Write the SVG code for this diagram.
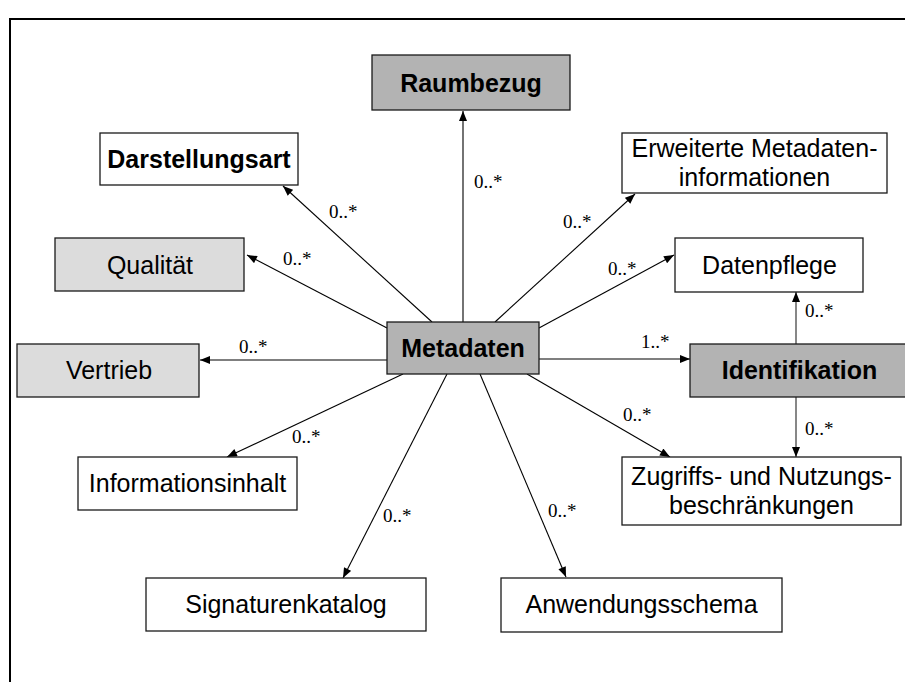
<svg xmlns="http://www.w3.org/2000/svg" width="905" height="682" viewBox="0 0 905 682">
<style>
.box{stroke:#1a1a1a;stroke-width:1.3}
.w{fill:#ffffff}
.d{fill:#b3b3b3}
.l{fill:#dcdcdc}
.t{font-family:"Liberation Sans",Arial,sans-serif;font-size:25px;fill:#000;text-anchor:middle}
.b{font-weight:bold}
.m{font-family:"Liberation Serif","Times New Roman",serif;font-size:19px;fill:#000}
.c{stroke:#000;stroke-width:1.1;fill:none;marker-end:url(#ah)}
.g{stroke:#7a7a7a;stroke-width:1.8;fill:none;marker-end:url(#ah)}
</style>
<defs>
<marker id="ah" viewBox="0 0 10 8" refX="10" refY="4" markerWidth="11" markerHeight="8" orient="auto" markerUnits="userSpaceOnUse"><path d="M0,0 L10,4 L0,8 z" fill="#000"/></marker>
</defs>
<rect width="905" height="682" fill="#fff"/>
<path d="M10,683 V19 H906" fill="none" stroke="#000" stroke-width="2"/>
<g id="connectors">
<line class="c" x1="463" y1="322" x2="463" y2="111"/>
<line class="c" x1="432" y1="322" x2="283" y2="186"/>
<line class="c" x1="495" y1="322" x2="635" y2="194"/>
<line class="c" x1="387" y1="328" x2="247" y2="255"/>
<line class="c" x1="539" y1="328" x2="674" y2="255"/>
<line class="c" x1="387" y1="360" x2="200" y2="360"/>
<line class="c" x1="539" y1="359" x2="690" y2="359"/>
<line class="c" x1="403" y1="374" x2="227" y2="457"/>
<line class="c" x1="447" y1="374" x2="343" y2="578"/>
<line class="c" x1="480" y1="374" x2="566" y2="577"/>
<line class="c" x1="527" y1="374" x2="670" y2="457"/>
<line class="g" x1="796" y1="344" x2="796" y2="292"/>
<line class="g" x1="796" y1="397" x2="796" y2="457"/>
<text class="m" x="474" y="188">0..*</text>
<text class="m" x="329" y="218">0..*</text>
<text class="m" x="563" y="228">0..*</text>
<text class="m" x="283" y="265">0..*</text>
<text class="m" x="608" y="275">0..*</text>
<text class="m" x="239" y="353">0..*</text>
<text class="m" x="641" y="348">1..*</text>
<text class="m" x="805" y="317">0..*</text>
<text class="m" x="805" y="435">0..*</text>
<text class="m" x="623" y="421">0..*</text>
<text class="m" x="292" y="443">0..*</text>
<text class="m" x="383" y="522">0..*</text>
<text class="m" x="548" y="517">0..*</text>
</g>
<g id="raumbezug"><rect class="box d" x="372" y="55" width="198" height="55"/><text class="t b" x="471" y="92">Raumbezug</text></g>
<g id="darstellungsart"><rect class="box w" x="100" y="133" width="198" height="52"/><text class="t b" x="199" y="168">Darstellungsart</text></g>
<g id="erweiterte"><rect class="box w" x="622" y="133" width="265" height="60"/><text class="t" x="754.5" y="157">Erweiterte Metadaten-</text><text class="t" x="754.5" y="186">informationen</text></g>
<g id="qualitaet"><rect class="box l" x="55" y="238" width="189" height="53"/><text class="t" x="150" y="274">Qualität</text></g>
<g id="datenpflege"><rect class="box w" x="675" y="238" width="188" height="54"/><text class="t" x="769.5" y="274">Datenpflege</text></g>
<g id="vertrieb"><rect class="box l" x="17" y="344" width="182" height="53"/><text class="t" x="109" y="379">Vertrieb</text></g>
<g id="metadaten"><rect class="box d" x="387" y="322" width="152" height="52"/><text class="t b" x="463" y="357">Metadaten</text></g>
<g id="identifikation"><rect class="box d" x="690" y="344" width="220" height="53"/><text class="t b" x="799.5" y="379">Identifikation</text></g>
<g id="informationsinhalt"><rect class="box w" x="78" y="457" width="219" height="53"/><text class="t" x="187.5" y="492">Informationsinhalt</text></g>
<g id="zugriffs"><rect class="box w" x="622" y="457" width="279" height="68"/><text class="t" x="761.5" y="485">Zugriffs- und Nutzungs-</text><text class="t" x="761.5" y="514">beschränkungen</text></g>
<g id="signaturenkatalog"><rect class="box w" x="146" y="578" width="280" height="53"/><text class="t" x="286" y="613">Signaturenkatalog</text></g>
<g id="anwendungsschema"><rect class="box w" x="501" y="578" width="281" height="54"/><text class="t" x="641.5" y="613">Anwendungsschema</text></g>
</svg>
